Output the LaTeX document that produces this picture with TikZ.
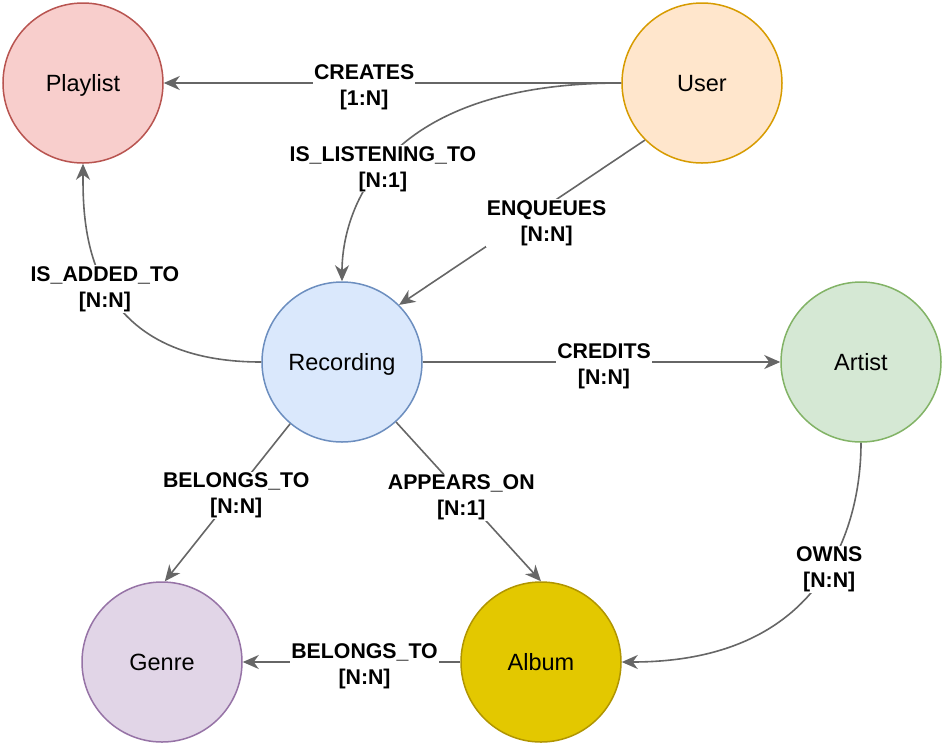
\documentclass[tikz,border=0pt]{standalone}
\usepackage{fontspec}
\setmainfont{Liberation Sans}
\usetikzlibrary{arrows.meta}
\definecolor{edgegray}{HTML}{666666}
\definecolor{plfill}{HTML}{F8CECC}\definecolor{pldraw}{HTML}{B85450}
\definecolor{usfill}{HTML}{FFE6CC}\definecolor{usdraw}{HTML}{D79B00}
\definecolor{refill}{HTML}{DAE8FC}\definecolor{redraw}{HTML}{6C8EBF}
\definecolor{arfill}{HTML}{D5E8D4}\definecolor{ardraw}{HTML}{82B366}
\definecolor{gefill}{HTML}{E1D5E7}\definecolor{gedraw}{HTML}{9673A6}
\definecolor{alfill}{HTML}{E3C800}\definecolor{aldraw}{HTML}{B09500}
\tikzset{
  entity/.style={circle, minimum size=160pt, inner sep=0pt, line width=1.5pt,
    text depth=0pt, font=\fontsize{23.5}{28}\selectfont},
  rel/.style={draw=edgegray, line width=1.6pt,
    -{Stealth[length=16pt, width=14pt, inset=5pt]}},
  lbl/.style={fill=white, inner sep=1pt, align=center, text=black,
    font=\fontsize{21.3}{26}\selectfont\bfseries, yshift=-4pt},
}
\begin{document}
\begin{tikzpicture}[x=1pt, y=-1pt]
\useasboundingbox (0,0) rectangle (945,748);
\node[entity, fill=plfill, draw=pldraw] (playlist) at (83,83) {Playlist};
\node[entity, fill=usfill, draw=usdraw] (user) at (702,83) {User};
\node[entity, fill=refill, draw=redraw] (rec) at (342,362) {Recording};
\node[entity, fill=arfill, draw=ardraw] (artist) at (861,362) {Artist};
\node[entity, fill=gefill, draw=gedraw] (genre) at (162,662) {Genre};
\node[entity, fill=alfill, draw=aldraw] (album) at (541,662) {Album};

\draw[rel] (user.west) -- node[lbl, pos=0.562] {CREATES\\{}[1:N]} (playlist.east);
\draw[rel] (user.west) .. controls (358,83) and (342,235) .. node[lbl, pos=0.5] {IS\_LISTENING\_TO\\{}[N:1]} (rec.north);
\draw[rel] (user.225) -- node[lbl, pos=0.4, yshift=-13pt] {ENQUEUES\\{}[N:N]} (rec.45);
\draw[rel] (rec.west) .. controls (82,362) and (83,223) .. node[lbl, pos=0.5] {IS\_ADDED\_TO\\{}[N:N]} (playlist.south);
\draw[rel] (rec.east) -- node[lbl, pos=0.507] {CREDITS\\{}[N:N]} (artist.west);
\draw[rel] (rec.230) -- node[lbl, pos=0.43] {BELONGS\_TO\\{}[N:N]} (genre.88);
\draw[rel] (rec.312) -- node[lbl, pos=0.45] {APPEARS\_ON\\{}[N:1]} (album.north);
\draw[rel] (artist.south) .. controls (861,477) and (856,662) .. node[lbl, pos=0.5] {OWNS\\{}[N:N]} (album.east);
\draw[rel] (album.west) -- node[lbl, pos=0.44] {BELONGS\_TO\\{}[N:N]} (genre.east);
\end{tikzpicture}
\end{document}
